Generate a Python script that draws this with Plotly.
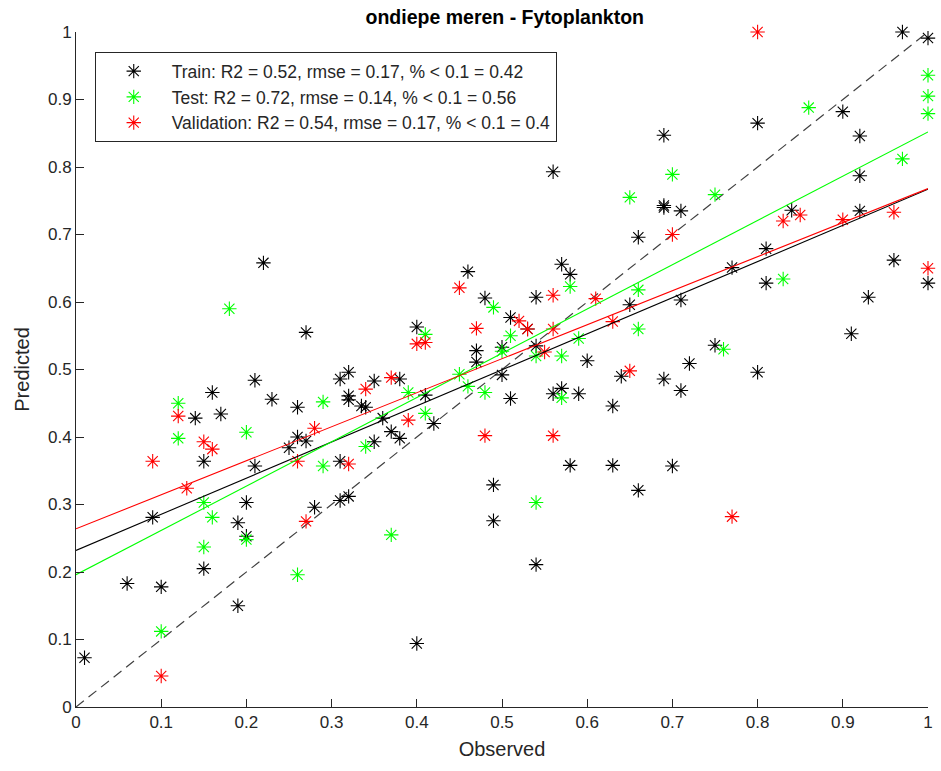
import plotly.graph_objects as go

# ---- Data ----
train_obs = [0.01, 0.06, 0.09, 0.10, 0.14, 0.15, 0.15, 0.16, 0.17, 0.19, 0.19, 0.20, 0.20, 0.21, 0.21,
             0.22, 0.23, 0.25, 0.26, 0.26, 0.27, 0.27, 0.28, 0.31, 0.31, 0.31, 0.32, 0.32, 0.32, 0.32,
             0.335, 0.34, 0.35, 0.35, 0.36, 0.37, 0.38, 0.38, 0.40, 0.40, 0.41, 0.42, 0.46, 0.47, 0.47,
             0.48, 0.49, 0.49, 0.50, 0.50, 0.51, 0.51, 0.53, 0.54, 0.54, 0.54, 0.56, 0.56, 0.57, 0.57,
             0.58, 0.58, 0.59, 0.60, 0.63, 0.63, 0.64, 0.65, 0.66, 0.66, 0.69, 0.69, 0.69, 0.69, 0.70,
             0.71, 0.71, 0.71, 0.72, 0.75, 0.77, 0.80, 0.80, 0.81, 0.81, 0.84, 0.90, 0.91, 0.92, 0.92,
             0.92, 0.93, 0.96, 0.97, 1.00, 1.00]
train_pred = [0.073, 0.183, 0.281, 0.178, 0.428, 0.364, 0.205, 0.466, 0.434, 0.273, 0.150, 0.303, 0.253, 0.357, 0.484,
              0.658, 0.456, 0.384, 0.444, 0.400, 0.555, 0.394, 0.296, 0.486, 0.364, 0.306, 0.496, 0.461, 0.455, 0.312,
              0.446, 0.444, 0.483, 0.393, 0.428, 0.408, 0.486, 0.398, 0.563, 0.094, 0.462, 0.420, 0.645, 0.528, 0.511,
              0.606, 0.329, 0.276, 0.533, 0.492, 0.577, 0.457, 0.560, 0.607, 0.535, 0.211, 0.793, 0.464, 0.656, 0.472,
              0.641, 0.358, 0.464, 0.513, 0.446, 0.358, 0.490, 0.596, 0.696, 0.321, 0.847, 0.743, 0.740, 0.486, 0.357,
              0.735, 0.603, 0.469, 0.509, 0.536, 0.651, 0.865, 0.496, 0.628, 0.679, 0.736, 0.882, 0.553, 0.846, 0.787,
              0.735, 0.607, 0.662, 1.000, 0.991, 0.628]

test_obs = [0.10, 0.12, 0.12, 0.15, 0.15, 0.16, 0.18, 0.20, 0.20, 0.26, 0.29, 0.29, 0.34, 0.37, 0.39,
            0.41, 0.41, 0.45, 0.46, 0.48, 0.49, 0.50, 0.51, 0.54, 0.54, 0.57, 0.57, 0.58, 0.59, 0.65,
            0.66, 0.66, 0.70, 0.75, 0.76, 0.83, 0.86, 0.97, 1.00, 1.00, 1.00]
test_pred = [0.112, 0.450, 0.398, 0.303, 0.237, 0.281, 0.590, 0.407, 0.248, 0.196, 0.452, 0.357, 0.386, 0.255, 0.466,
             0.552, 0.435, 0.493, 0.475, 0.466, 0.592, 0.527, 0.550, 0.520, 0.303, 0.520, 0.458, 0.623, 0.546, 0.755,
             0.618, 0.560, 0.789, 0.759, 0.530, 0.634, 0.888, 0.812, 0.936, 0.905, 0.879]

val_obs = [0.09, 0.10, 0.12, 0.13, 0.15, 0.16, 0.26, 0.27, 0.28, 0.32, 0.34, 0.37, 0.39, 0.40, 0.41,
           0.45, 0.47, 0.48, 0.52, 0.53, 0.55, 0.56, 0.56, 0.56, 0.61, 0.63, 0.65, 0.70, 0.77, 0.80,
           0.83, 0.85, 0.90, 0.96, 1.00]
val_pred = [0.364, 0.046, 0.431, 0.324, 0.393, 0.382, 0.364, 0.275, 0.413, 0.360, 0.471, 0.488, 0.425, 0.538, 0.540,
            0.621, 0.561, 0.402, 0.572, 0.560, 0.526, 0.610, 0.560, 0.402, 0.605, 0.571, 0.498, 0.700, 0.282, 1.000,
            0.720, 0.729, 0.722, 0.733, 0.650]

# fitted regression lines (intercept, slope)
train_fit = (0.232, 0.535)
test_fit = (0.196, 0.656)
val_fit = (0.264, 0.504)

labels = ["Train: R2 = 0.52, rmse = 0.17, % < 0.1 = 0.42",
          "Test: R2 = 0.72, rmse = 0.14, % < 0.1 = 0.56",
          "Validation: R2 = 0.54, rmse = 0.17, % < 0.1 = 0.4"]
colors = ["#000000", "#00FF00", "#FF0000"]

title = "ondiepe meren - Fytoplankton"
x_ticks = [0, 0.1, 0.2, 0.3, 0.4, 0.5, 0.6, 0.7, 0.8, 0.9, 1]
x_ticktext = ["0", "0.1", "0.2", "0.3", "0.4", "0.5", "0.6", "0.7", "0.8", "0.9", "1"]

fig = go.Figure()

# identity line
fig.add_trace(go.Scatter(x=[0, 1], y=[0, 1], mode="lines",
                         line=dict(color="#404040", width=1.2, dash="10px,6px"),
                         showlegend=False, hoverinfo="skip"))

series = [(train_obs, train_pred, train_fit), (test_obs, test_pred, test_fit), (val_obs, val_pred, val_fit)]
for i, (xo, yp, fit) in enumerate(series):
    fig.add_trace(go.Scatter(x=xo, y=yp, mode="markers", name=labels[i],
                             marker=dict(symbol="asterisk-open", size=12, color=colors[i],
                                         line=dict(color=colors[i], width=1.1)),
                             cliponaxis=False))

for i, (xo, yp, fit) in enumerate(series):
    b, m = fit
    fig.add_trace(go.Scatter(x=[0, 1], y=[b, b + m], mode="lines",
                             line=dict(color=colors[i], width=1.1),
                             showlegend=False, hoverinfo="skip"))

font_family = "Liberation Sans, Arial, sans-serif"
fig.update_layout(
    width=941, height=771,
    margin=dict(l=76, r=8, t=32, b=64),
    paper_bgcolor="white", plot_bgcolor="white",
    font=dict(family=font_family, size=17, color="#262626"),
    title=dict(text="<b>" + title + "</b>", x=0.5364, xanchor="center", y=0.978, yanchor="middle",
               font=dict(size=19.5, color="#000000")),
    legend=dict(x=0.022, y=0.97, xanchor="left", yanchor="top",
                bgcolor="white", bordercolor="#262626", borderwidth=1,
                font=dict(size=17.5, color="#262626"),
                traceorder="normal", itemwidth=66),
    showlegend=True,
)
fig.update_xaxes(range=[0, 1], tickvals=x_ticks, ticktext=x_ticktext,
                 ticks="inside", ticklen=8, tickcolor="#262626", tickwidth=1,
                 showline=True, linecolor="#262626", linewidth=1,
                 showgrid=False, zeroline=False,
                 title=dict(text="Observed", font=dict(size=20), standoff=10),
                 tickfont=dict(size=17))
fig.update_yaxes(range=[0, 1], tickvals=x_ticks, ticktext=x_ticktext,
                 ticks="inside", ticklen=8, tickcolor="#262626", tickwidth=1,
                 showline=True, linecolor="#262626", linewidth=1,
                 showgrid=False, zeroline=False,
                 title=dict(text="Predicted", font=dict(size=20), standoff=12),
                 tickfont=dict(size=17))

fig.write_html("out.html")
